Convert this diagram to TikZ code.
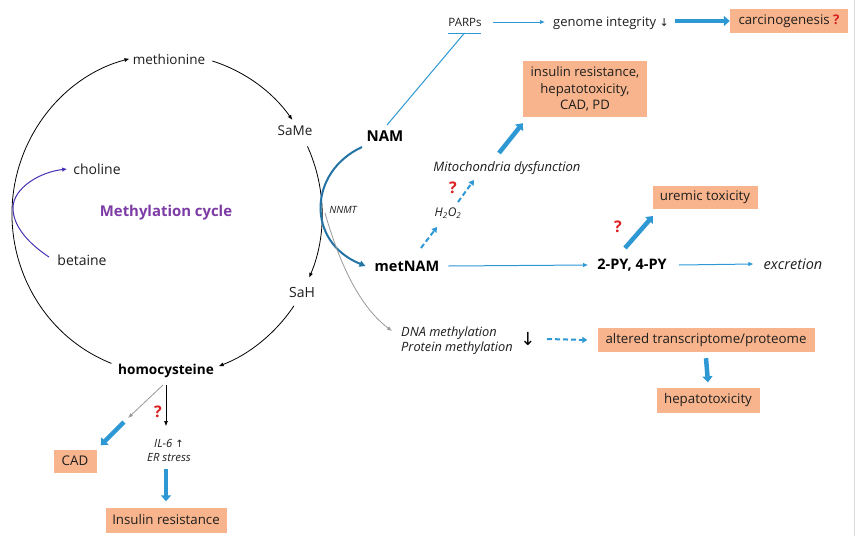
\documentclass[tikz,border=0pt]{standalone}
\usepackage{fontspec}
\setmainfont{Open Sans}
\newfontfamily\sym{DejaVu Sans}
\usetikzlibrary{arrows.meta}
\definecolor{lblue}{RGB}{45,152,212}
\definecolor{dblue}{RGB}{35,115,165}
\definecolor{cholc}{RGB}{70,50,180}
\definecolor{purp}{RGB}{125,60,165}
\definecolor{boxc}{RGB}{248,180,140}
\definecolor{qred}{RGB}{220,30,30}
\definecolor{txtc}{RGB}{30,30,30}
\begin{document}
\begin{tikzpicture}[x=1pt,y=-1pt,
  t/.style={inner sep=0pt,text=txtc,font=\fontsize{13.5}{16}\selectfont},
  ti/.style={inner sep=0pt,text=txtc,font=\fontsize{13}{15}\selectfont\itshape},
  tb/.style={inner sep=0pt,text=black,font=\fontsize{14.5}{17}\selectfont\bfseries},
  obox/.style={fill=boxc,draw=none,inner sep=0pt,text=txtc,font=\fontsize{13.3}{16}\selectfont},
  qm/.style={inner sep=0pt,text=qred,font=\fontsize{16}{18}\selectfont\bfseries},
  thin/.style={line width=0.8pt,-{Latex[length=5pt,width=4pt]}},
  lba/.style={draw=lblue,line width=1pt,-{Latex[length=5pt,width=4.5pt]}},
  thick/.style={draw=lblue,line width=4.5pt,-{Triangle[length=6pt,width=10pt]}},
  dsh/.style={draw=lblue,line width=2pt,dash pattern=on 5pt off 3pt,-{Triangle[length=5pt,width=6pt]}},
]
\useasboundingbox (0,0) rectangle (857,536);
\fill[white] (0,0) rectangle (857,536);
\draw[black!15,line width=0.8pt] (854.5,0) -- (854.5,536);

% cycle
\coordinate (cc) at (167,214);
\node[t] (met) at (169,59) {methionine};
\node[t] (same) at (295,131) {SaMe};
\node[t,font=\fontsize{14}{16}\selectfont] (sah) at (302,292) {SaH};
\node[tb,font=\fontsize{13.6}{16}\selectfont\bfseries] (hcy) at (166,371) {homocysteine};
\node[t,font=\fontsize{14}{16}\selectfont] (chol) at (97,169) {choline};
\node[t,font=\fontsize{14}{16}\selectfont] (bet) at (82,260) {betaine};
\node[inner sep=0pt,text=purp,font=\fontsize{14.9}{17}\selectfont\bfseries] (cyc) at (166,213) {Methylation cycle};

\draw[thin] ([shift={(111:155 and 160)}]cc) arc[start angle=111,end angle=256,x radius=155,y radius=160];
\draw[thin] ([shift={(287:155 and 160)}]cc) arc[start angle=287,end angle=324,x radius=155,y radius=160];
\draw[thin] ([shift={(-25:155 and 160)}]cc) arc[start angle=-25,end angle=23.5,x radius=155,y radius=160];
\draw[thin] ([shift={(35:155 and 160)}]cc) arc[start angle=35,end angle=70,x radius=158,y radius=165];

% choline / betaine
\coordinate (cb) at (13,208);
\coordinate (bs) at (49,257);
\draw[cholc,line width=1pt,-{Latex[length=5pt,width=4.5pt]}] (bs) .. controls (28,243) and (13,226) .. (cb) .. controls (13,188) and (40,172) .. ([xshift=-6pt]chol.west);

% NAM / NNMT
\node[inner sep=0pt,text=black,font=\fontsize{15}{17}\selectfont\bfseries] (nam) at (385,136) {NAM};
\node[inner sep=0pt,text=txtc,font=\fontsize{10}{12}\selectfont\itshape] (nnmt) at (343,210) {NNMT};
\node[tb] (metnam) at (407,266) {metNAM};
\draw[dblue,line width=2pt,-{Triangle[length=6pt,width=6pt]}] ([shift={(-23,11)}]nam.center) .. controls (308,172) and (306,242) .. ([xshift=-9pt]metnam.west);
\coordinate (gs) at (325,213);
\coordinate (dnaend) at (392,331);
\node[ti,align=left,font=\fontsize{12.8}{15}\selectfont\itshape] (dna) at (457,341) {DNA methylation\\Protein methylation};
\draw[gray!80,line width=0.8pt,-{Latex[length=5pt,width=4pt]}] (gs) .. controls (340,265) and (360,307) .. (dnaend);
\node[inner sep=0pt,font=\fontsize{18}{20}\sym] (dn) at (528,339) {↓};
\node[obox,minimum width=217pt,minimum height=24pt] (alt) at (706,340) {altered transcriptome/proteome};
\draw[dsh] ([xshift=19pt]dn.center) -- ([xshift=-10pt]alt.west);
\node[obox,minimum width=103pt,minimum height=25pt] (hep) at (708,400) {hepatotoxicity};
\draw[thick] ([shift={(0,6)}]alt.south) -- ([shift={(0,-5)}]hep.north);

% PARPs
\node[t,font=\fontsize{11.5}{14}\selectfont] (parps) at (465,22) {PARPs};
\coordinate (bar) at (464.5,33);
\draw[lblue,line width=1pt] (448,33) -- (481,33);
\draw[lblue,line width=1pt] ([shift={(2,-11)}]nam.center) -- (bar);
\node[t,font=\fontsize{13}{16}\selectfont] (gi) at (611,23) {genome integrity {\sym\fontsize{11}{13}\selectfont ↓}};
\draw[lba] (493,22) -- (545,22);
\node[obox,minimum width=118pt,minimum height=24pt] (carc) at (789,21) {carcinogenesis {\color{qred}\bfseries ?}};
\draw[thick] (675,21) -- (carc.west);

% mito
\node[obox,align=center,minimum width=124pt,minimum height=56pt,font=\fontsize{13.1}{16.5}\selectfont] (ins1) at (585,89) {insulin resistance,\\hepatotoxicity,\\CAD, PD};
\node[ti] (mito) at (507,168) {Mitochondria dysfunction};
\node[ti,font=\fontsize{12}{14}\selectfont\itshape] (h2o2) at (448,213) {H\textsubscript{2}O\textsubscript{2}};
\node[qm] (q1) at (453,188) {?};
\draw[thick] (499,153) -- ([shift={(0,6)}]ins1.south west);
\draw[dsh] (458,202) -- (474,180);
\draw[dsh] (421,248) -- (437,227);

% PY
\node[tb] (py) at (632,265) {2-PY, 4-PY};
\node[ti,font=\fontsize{14.5}{17}\selectfont\itshape] (exc) at (793,264) {excretion};
\draw[lba] ([xshift=9pt]metnam.east) -- ([xshift=-9pt]py.west);
\draw[lba] ([xshift=12pt]py.east) -- ([xshift=-10pt]exc.west);
\node[obox,minimum width=105pt,minimum height=23pt] (urem) at (705,197) {uremic toxicity};
\node[qm] (q2) at (618,227) {?};
\draw[thick] (625,248) -- (653,216);

% homocysteine branch
\node[ti,align=center,font=\fontsize{11.3}{14}\selectfont\itshape] (il6) at (169,450) {IL-6 {\upshape\sym\fontsize{10}{10}\selectfont ↑}\\ER stress};
\node[obox,minimum width=43pt,minimum height=23pt] (cad) at (75,461) {CAD};
\node[obox,minimum width=121pt,minimum height=25pt] (ins2) at (166,520) {Insulin resistance};
\node[qm] (q3) at (158,412) {?};
\coordinate (cadend) at (128,418);
\draw[gray!80,line width=0.8pt,-{Latex[length=5pt,width=4pt]}] (163,385) -- (cadend);
\draw[thin,line width=0.6pt] (166,385) -- (166,426);
\draw[thick] (124,422) -- ([shift={(4,-4)}]cad.north east);
\draw[thick] (166,469) -- ([shift={(0,-6)}]ins2.north);
\end{tikzpicture}
\end{document}
